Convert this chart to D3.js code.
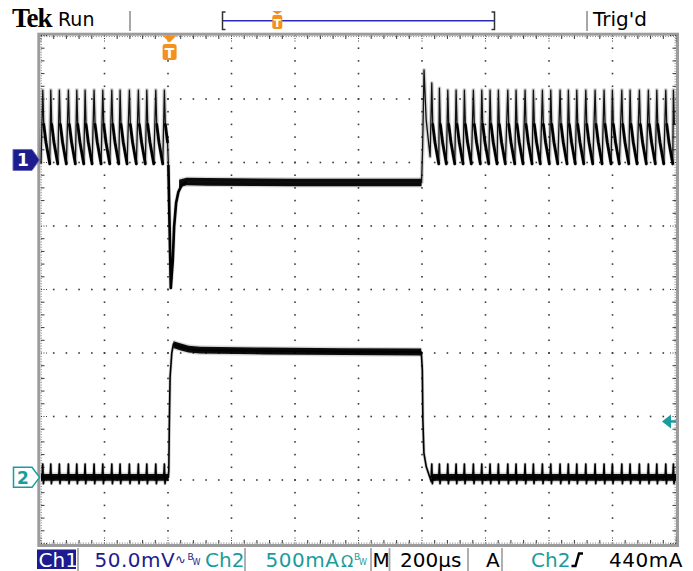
<!DOCTYPE html>
<html><head><meta charset="utf-8">
<script src="https://cdn.jsdelivr.net/npm/d3@7"></script>
<style>
html,body{margin:0;padding:0;background:#fff;}
svg{display:block;}
</style></head><body>
<svg id="c" width="693" height="571" font-family="DejaVu Sans, sans-serif"></svg>
<script>
// ================= DATA =================
const timePerDiv = 200;                 // µs / div
const timeRange = [-405, 1595];         // µs, trigger at 0
const ch1Range = [-302, 98];            // mV  (50 mV/div)
const ch2Range = [-521, 3479];          // mA  (500 mA/div)
const triggerLevel = 440;               // mA on Ch2
const xDivs = 10, yDivs = 8;

// switching-ripple events (µs)
const rippleTimesBefore = [-399.4,-374.2,-347.1,-318.7,-292.3,-266.1,-237.8,-210.4,-182.0,-155.9,-126.6,-98.3,-71.8,-43.5,-16.4];
const rippleTimesAfter = [825.8,849.8,876.2,902.4,928.5,956.8,983.3,1009.4,1035.6,1065.2,1091.3,1119.7,1145.8,1174.2,1200.6,1229.9,1256.0,1282.5,1310.9,1340.2,1368.5,1394.6,1424.3,1450.4,1479.7,1508.0,1534.5,1562.8,1586.8];

// Ch1 (mV): one ripple tooth [dt µs, mV]
const ch1Tooth = [[0,55],[3,28],[10,14],[22,-3]];
const ch1FirstPeaksAfter = [60.6, 56.5];
// Ch1 load-step dip and recovery
const ch1Drop = [[-3.8,-3.9],[3.8,-100.8],[10.1,-78.7],[14.2,-52.8],[20.5,-33.9],[27.7,-25.2],[38.4,-19.7],[54.2,-17.3]];
const ch1Flat = [[30,-18.5],[54.2,-17.0],[120,-17.3],[400,-17.7],[793.7,-17.7]];
const ch1EdgeUp = [[793.7,-17.7],[797,10],[801.4,70.9],[808,32],[820.5,2.6]];
const ch1Noise = 3.0;   // mV half-band

// Ch2 (mA)
const ch2Base = 0;
const ch2Spike = [[-2,0],[0,105],[2,-50],[4,0]];
const ch2Rise = [[-3.8,0],[-2.5,57],[-0.6,451],[1.6,790],[6.9,979],[12,1050],[20,1040],[33,1028],[60,1010],[96,1002]];
const ch2High = [[12,1045],[33,1028],[60,1010],[96,1002],[300,995],[550,990],[792.8,987]];
const ch2Fall = [[792.8,987],[796,845],[797.8,451],[801,191],[808.5,83],[819,5],[824.4,-35],[828,0]];
const ch2Noise = 27;    // mA half-band

const headerTexts = ["Tek", "Run", "Trig'd"];
const statusLabels = ["Ch1","50.0mV","Ch2","500mA","M","200µs","A","Ch2","440mA"];

// ================= DRAW =================
const NAVY = "#1c1c8e", TEAL = "#1a9c9c", ORANGE = "#f4911e", GRIDC = "#3a3a3a";
const svg = d3.select("#c");
svg.append("rect").attr("width",693).attr("height",571).attr("fill","#fff");

const X0 = 41, X1 = 676, Y0 = 35.5, Y1 = 543.5;
const x = d3.scaleLinear().domain(timeRange).range([X0, X1]);
const y1 = d3.scaleLinear().domain(ch1Range).range([Y1, Y0]);
const y2 = d3.scaleLinear().domain(ch2Range).range([Y1, Y0]);
const yDivScale = d3.scaleLinear().domain([0, yDivs]).range([Y0, Y1]);
const xDivScale = d3.scaleLinear().domain([0, xDivs]).range([X0, X1]);

// ---- graticule ----
const g = svg.append("g");
const minorX = d3.range(0, xDivs*5+1).map(i => i/5);
const minorY = d3.range(0, yDivs*5+1).map(i => i/5);
for (let i = 1; i < xDivs; i++) {
  minorY.forEach(v => {
    if (v > 0 && v < yDivs) g.append("rect").attr("x", xDivScale(i)-0.8).attr("y", yDivScale(v)-0.8).attr("width",1.6).attr("height",1.6).attr("fill",GRIDC);
  });
}
for (let j = 1; j < yDivs; j++) {
  minorX.forEach(v => {
    if (v > 0 && v < xDivs) g.append("rect").attr("x", xDivScale(v)-0.8).attr("y", yDivScale(j)-0.8).attr("width",1.6).attr("height",1.6).attr("fill",GRIDC);
  });
}
g.append("rect").attr("x",38.8).attr("y",34.2).attr("width",638.7).attr("height",511.3)
  .attr("fill","none").attr("stroke","#9c9c9c").attr("stroke-width",3);
g.append("rect").attr("x",41.2).attr("y",36.6).attr("width",633.9).attr("height",506.5)
  .attr("fill","none").attr("stroke","#777").attr("stroke-width",1).attr("stroke-dasharray","1 1.6");
minorX.forEach(v => {
  const xx = xDivScale(v), major = Math.abs(v - Math.round(v)) < 1e-6;
  const L = major ? 7 : 3.5;
  g.append("line").attr("x1",xx).attr("x2",xx).attr("y1",Y0).attr("y2",Y0+L).attr("stroke",GRIDC).attr("stroke-width",1).attr("stroke-dasharray", major ? "1 1.5" : null);
  g.append("line").attr("x1",xx).attr("x2",xx).attr("y1",Y1).attr("y2",Y1-L).attr("stroke",GRIDC).attr("stroke-width",1).attr("stroke-dasharray", major ? "1 1.5" : null);
});
minorY.forEach(v => {
  const yy = yDivScale(v), major = Math.abs(v - Math.round(v)) < 1e-6;
  const L = major ? 7 : 3.5;
  g.append("line").attr("y1",yy).attr("y2",yy).attr("x1",X0).attr("x2",X0+L).attr("stroke",GRIDC).attr("stroke-width",1).attr("stroke-dasharray", major ? "1 1.5" : null);
  g.append("line").attr("y1",yy).attr("y2",yy).attr("x1",X1).attr("x2",X1-L).attr("stroke",GRIDC).attr("stroke-width",1).attr("stroke-dasharray", major ? "1 1.5" : null);
});

// ---- helpers ----
function teeth(times, endTime, shape, firstPeaks) {
  const pts = [], decays = [];
  times.forEach((t0, i) => {
    const tEnd = i < times.length-1 ? times[i+1] : endTime;
    const seg = [];
    shape.forEach(([dt, v], k) => {
      let val = v;
      if (k === 0 && firstPeaks && i < firstPeaks.length) val = firstPeaks[i];
      if (t0 + dt < tEnd) { pts.push([t0+dt, val]); if (k>0) seg.push([t0+dt, val]); }
    });
    decays.push(seg);
  });
  return {pts, decays};
}

// ---- Ch1 trace ----
const l1 = d3.line().x(d => x(d[0])).y(d => y1(d[1]));
const a1 = d3.area().x(d => x(d[0])).y0(d => y1(d[1]-ch1Noise)).y1(d => y1(d[1]+ch1Noise));
const a1h = d3.area().x(d => x(d[0])).y0(d => y1(d[1]-ch1Noise*1.35)).y1(d => y1(d[1]+ch1Noise*1.35));
const tb1 = teeth(rippleTimesBefore, ch1Drop[0][0], ch1Tooth);
const ta1 = teeth(rippleTimesAfter, timeRange[1], ch1Tooth, ch1FirstPeaksAfter);
const ch1Pts = [[timeRange[0], -3]].concat(tb1.pts, ch1Drop, ch1Flat.slice(1), ch1EdgeUp, ta1.pts);
const tr1 = svg.append("g");
tr1.append("path").datum(ch1Flat).attr("d",a1h).attr("fill","#000").attr("opacity",0.15);
tr1.append("path").datum(ch1Flat).attr("d",a1).attr("fill","#000").attr("opacity",0.95);
tr1.append("path").datum(ch1Pts).attr("d",l1).attr("fill","none").attr("stroke","#000").attr("stroke-width",4).attr("opacity",0.18).attr("stroke-linejoin","round");
tr1.append("path").datum(ch1Pts).attr("d",l1).attr("fill","none").attr("stroke","#111").attr("stroke-width",1.3).attr("stroke-linejoin","round");
tb1.decays.concat(ta1.decays).forEach(seg => {
  if (seg.length > 1) tr1.append("path").datum(seg).attr("d",l1).attr("fill","none").attr("stroke","#000").attr("stroke-width",2.8).attr("stroke-linecap","round");
});
tr1.append("path").datum(ch1Drop).attr("d",l1).attr("fill","none").attr("stroke","#000").attr("stroke-width",2.6).attr("stroke-linejoin","round");

// ---- Ch2 trace ----
const l2 = d3.line().x(d => x(d[0])).y(d => y2(d[1]));
const a2 = d3.area().x(d => x(d[0])).y0(d => y2(d[1]-ch2Noise)).y1(d => y2(d[1]+ch2Noise));
const a2h = d3.area().x(d => x(d[0])).y0(d => y2(d[1]-ch2Noise*1.4)).y1(d => y2(d[1]+ch2Noise*1.4));
const spikeBefore = teeth(rippleTimesBefore, ch2Rise[0][0], ch2Spike.map(([dt,v]) => [dt, v + ch2Base]));
const spikeAfter = teeth(rippleTimesAfter, timeRange[1], ch2Spike.map(([dt,v]) => [dt, v + ch2Base]));
const base2Before = [[timeRange[0], ch2Base],[ch2Rise[0][0], ch2Base]];
const base2After = [[ch2Fall[ch2Fall.length-1][0], ch2Base],[timeRange[1], ch2Base]];
const ch2Pts = [[timeRange[0], ch2Base]].concat(spikeBefore.pts, ch2Rise, ch2High.slice(4), ch2Fall, spikeAfter.pts, [[timeRange[1], ch2Base]]);
const tr2 = svg.append("g");
[base2Before, ch2High, base2After].forEach(b => {
  tr2.append("path").datum(b).attr("d",a2h).attr("fill","#000").attr("opacity",0.15);
  tr2.append("path").datum(b).attr("d",a2).attr("fill","#000").attr("opacity",0.95);
});
tr2.append("path").datum(ch2Pts).attr("d",l2).attr("fill","none").attr("stroke","#000").attr("stroke-width",3.2).attr("opacity",0.2).attr("stroke-linejoin","round");
tr2.append("path").datum(ch2Pts).attr("d",l2).attr("fill","none").attr("stroke","#000").attr("stroke-width",1.6).attr("stroke-linejoin","round");

// ---- markers ----
const m1y = y1(0);
svg.append("path").attr("d",`M13,${m1y-10.5}H32L39.5,${m1y}L32,${m1y+10.5}H13Z`).attr("fill",NAVY).attr("stroke","#6a6ac0").attr("stroke-width",1);
svg.append("text").attr("x",23).attr("y",m1y+6.5).attr("text-anchor","middle").attr("fill","#fff").attr("font-size",17).attr("font-weight","bold").text("1");
const m2y = y2(0);
svg.append("path").attr("d",`M13.5,${m2y-10}H32L39.5,${m2y}L32,${m2y+10}H13.5Z`).attr("fill","#fff").attr("stroke",TEAL).attr("stroke-width",1.5);
svg.append("text").attr("x",23).attr("y",m2y+6.5).attr("text-anchor","middle").attr("fill",TEAL).attr("font-size",17).attr("font-weight","bold").text("2");
const tx = x(0);
svg.append("path").attr("d",`M${tx-7},35.5H${tx+7}L${tx},42.5Z`).attr("fill",ORANGE);
svg.append("rect").attr("x",tx-7).attr("y",44).attr("width",14).attr("height",16).attr("rx",2.5).attr("fill",ORANGE);
svg.append("text").attr("x",tx).attr("y",57.5).attr("text-anchor","middle").attr("fill","#fff").attr("font-size",14).attr("font-weight","bold").text("T");
const ty = y2(triggerLevel);
svg.append("path").attr("d",`M662,${ty}L671,${ty-7}V${ty+7}Z`).attr("fill",TEAL);
svg.append("line").attr("x1",668).attr("x2",676).attr("y1",ty).attr("y2",ty).attr("stroke",TEAL).attr("stroke-width",2.5);

// ---- header ----
svg.append("text").attr("x",12).attr("y",26.8).style("font-family","'Liberation Serif', serif").attr("font-weight","bold").attr("font-size",27).attr("letter-spacing",-1).attr("fill","#000").text(headerTexts[0]);
svg.append("text").attr("x",58).attr("y",26).attr("font-size",19).attr("fill","#000").text(headerTexts[1]);
svg.append("text").attr("x",593).attr("y",26).attr("font-size",20).attr("fill","#000").text(headerTexts[2]);
[130, 587].forEach(xx => svg.append("line").attr("x1",xx).attr("x2",xx).attr("y1",11).attr("y2",31).attr("stroke","#8a8a8a").attr("stroke-width",1.5));
const rec = d3.scaleLinear().domain(timeRange).range([222, 495]);
svg.append("line").attr("x1",rec(timeRange[0])).attr("x2",rec(timeRange[1])).attr("y1",20.7).attr("y2",20.7).attr("stroke","#2a2ab4").attr("stroke-width",1.5);
svg.append("path").attr("d",`M225.5,12H222.5V29.5H225.5`).attr("fill","none").attr("stroke","#333").attr("stroke-width",1.5);
svg.append("path").attr("d",`M491.5,12H494.5V29.5H491.5`).attr("fill","none").attr("stroke","#333").attr("stroke-width",1.5);
const rt = rec(0);
svg.append("path").attr("d",`M${rt-5},11H${rt+5}L${rt},14.5Z`).attr("fill",ORANGE);
svg.append("rect").attr("x",rt-5).attr("y",15).attr("width",10).attr("height",14).attr("rx",2).attr("fill",ORANGE);
svg.append("text").attr("x",rt).attr("y",26.5).attr("text-anchor","middle").attr("fill","#fff").attr("font-size",11).attr("font-weight","bold").text("T");

// ---- status bar ----
const SB = 566.5;
svg.append("rect").attr("x",37).attr("y",549.5).attr("width",39).attr("height",19.5).attr("fill",NAVY);
[78, 245, 371, 389.5, 468, 502].forEach(xx => svg.append("line").attr("x1",xx).attr("x2",xx).attr("y1",548).attr("y2",571).attr("stroke","#a8a8a8").attr("stroke-width",1.8));
const st = (i, xx, col) => svg.append("text").attr("x",xx).attr("y",SB).attr("font-size",20).attr("fill",col).text(statusLabels[i]);
st(0, 38.5, "#fff");
st(1, 94.5, NAVY).attr("letter-spacing",0.5);
st(2, 205, TEAL);
st(3, 265.5, TEAL).attr("letter-spacing",0.5);
st(4, 372.5, "#000");
st(5, 400, "#000");
st(6, 486, "#000");
st(7, 531, TEAL);
st(8, 609, "#000").attr("letter-spacing",0.5);
svg.append("text").attr("x",175).attr("y",SB-3).attr("font-size",13).attr("fill",NAVY).text("∿");
svg.append("text").attr("x",187.5).attr("y",SB-7).attr("font-size",9).attr("fill",NAVY).text("B");
svg.append("text").attr("x",192.5).attr("y",SB-2).attr("font-size",8).attr("fill",NAVY).text("W");
svg.append("text").attr("x",341).attr("y",SB).attr("font-size",16).attr("fill",TEAL).text("Ω");
svg.append("text").attr("x",354).attr("y",SB-7).attr("font-size",9).attr("fill",TEAL).text("B");
svg.append("text").attr("x",359).attr("y",SB-2).attr("font-size",8).attr("fill",TEAL).text("W");
svg.append("path").attr("d",`M571.5,566H575.5L579,553.5H583`).attr("fill","none").attr("stroke","#000").attr("stroke-width",2.4);
</script>
</body></html>
